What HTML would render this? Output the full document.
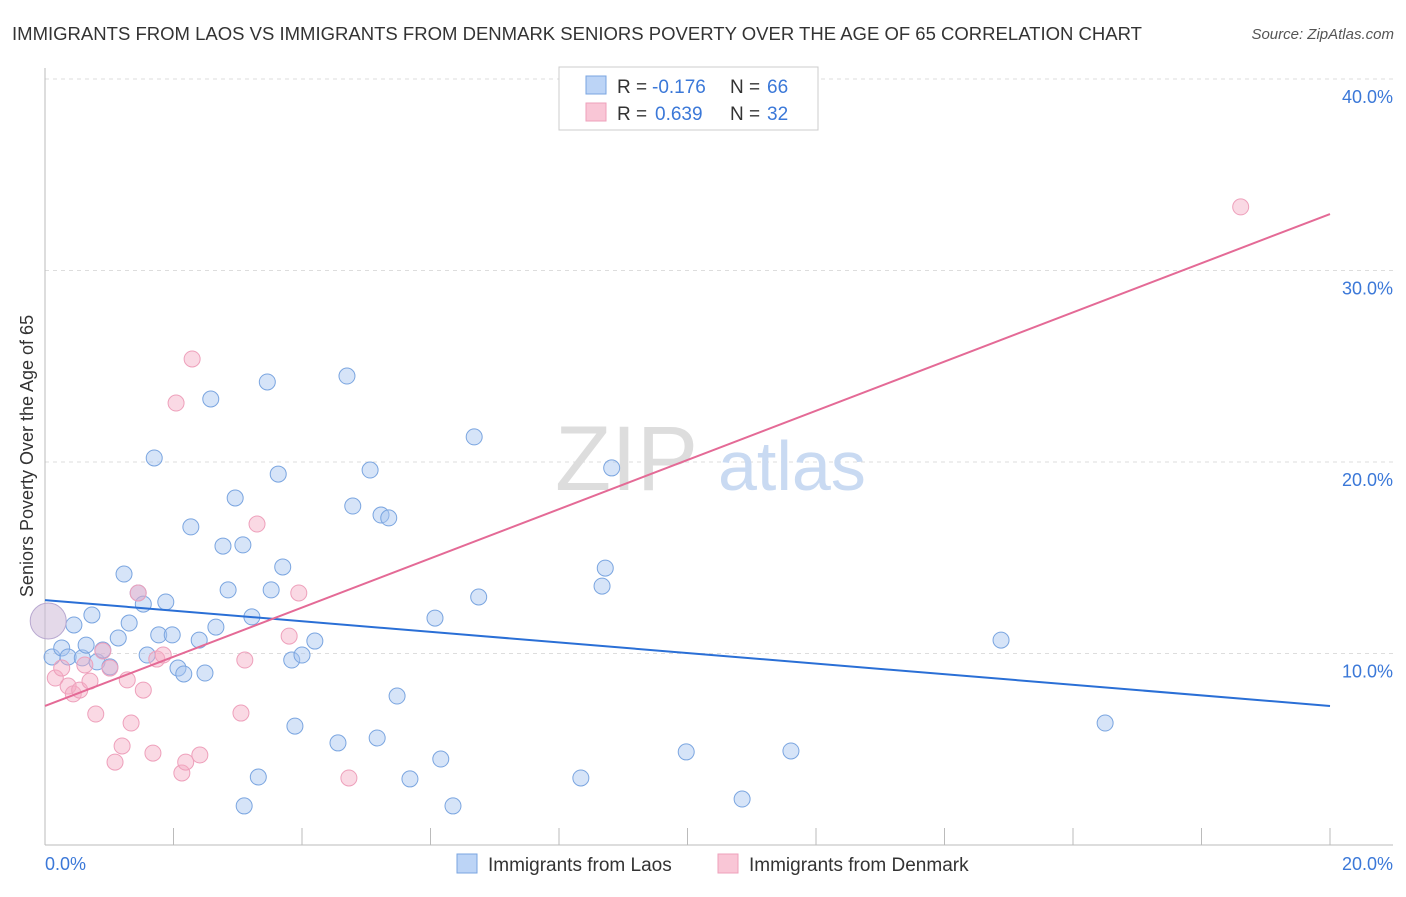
<!DOCTYPE html>
<html><head><meta charset="utf-8"><style>
body{margin:0;background:#fff;font-family:"Liberation Sans",sans-serif}
svg text{font-family:"Liberation Sans",sans-serif}
</style></head><body>
<svg id="chart" width="1406" height="892" xmlns="http://www.w3.org/2000/svg">
<text x="12" y="40" font-size="18" fill="#333" textLength="1130" lengthAdjust="spacingAndGlyphs">IMMIGRANTS FROM LAOS VS IMMIGRANTS FROM DENMARK SENIORS POVERTY OVER THE AGE OF 65 CORRELATION CHART</text>
<text x="1394" y="39" font-size="15" fill="#555" text-anchor="end" font-style="italic">Source: ZipAtlas.com</text>
<g id="grid"></g>
<text x="555" y="490" font-size="92" fill="#ddd" font-family="Liberation Serif">ZIP</text>
<text x="718" y="490" font-size="70" fill="#c9daf2">atlas</text>
<g id="marks"></g>
<text transform="translate(33,456) rotate(-90)" font-size="18" fill="#333" text-anchor="middle">Seniors Poverty Over the Age of 65</text>
<text x="45" y="870" font-size="18" fill="#3b78d8">0.0%</text>
<text x="1393" y="870" font-size="18" fill="#3b78d8" text-anchor="end">20.0%</text>
<g>
<rect x="559" y="67" width="259" height="63" fill="#fff" stroke="#ccc"/>
<rect x="586" y="76" width="20" height="18" fill="#bcd4f6" stroke="#7aa5e0"/>
<rect x="586" y="103" width="20" height="18" fill="#f9c6d6" stroke="#eea0bb"/>
<text x="617" y="93" font-size="19" fill="#333">R =</text>
<text x="652" y="93" font-size="19" fill="#3b78d8">-0.176</text>
<text x="730" y="93" font-size="19" fill="#333">N =</text>
<text x="767" y="93" font-size="19" fill="#3b78d8">66</text>
<text x="617" y="120" font-size="19" fill="#333">R =</text>
<text x="655" y="120" font-size="19" fill="#3b78d8">0.639</text>
<text x="730" y="120" font-size="19" fill="#333">N =</text>
<text x="767" y="120" font-size="19" fill="#3b78d8">32</text>
</g>
<g>
<rect x="457" y="854" width="20" height="19" fill="#bcd4f6" stroke="#7aa5e0"/>
<text x="488" y="871" font-size="19" fill="#333">Immigrants from Laos</text>
<rect x="718" y="854" width="20" height="19" fill="#f9c6d6" stroke="#eea0bb"/>
<text x="749" y="871" font-size="19" fill="#333">Immigrants from Denmark</text>
</g>
</svg>
<script>
const yTicks=[10,20,30,40];
const yTickLabels=["10.0%","20.0%","30.0%","40.0%"];
const xTicks=[0,2,4,6,8,10,12,14,16,18,20];
const laosX=[0.11,0.26,0.45,0.36,0.58,0.64,0.73,0.81,0.90,1.01,1.14,1.23,1.31,1.45,1.53,1.59,1.70,1.77,1.88,1.98,2.07,2.16,2.27,2.40,2.49,2.58,2.66,2.77,2.85,2.96,3.08,3.22,3.32,3.10,3.46,3.52,3.63,3.70,3.84,3.89,4.00,4.20,4.56,4.70,4.79,5.06,5.17,5.23,5.35,5.48,5.68,6.07,6.16,6.35,6.68,6.75,8.34,8.67,8.72,8.82,9.98,10.85,11.61,14.88,16.50];
const laosY=[9.82,10.29,11.49,9.82,9.77,10.44,12.01,9.56,10.18,9.30,10.81,14.15,11.59,13.16,12.58,9.92,20.21,10.97,12.69,10.97,9.24,8.93,16.61,10.70,8.98,23.29,11.38,15.61,13.32,18.12,15.67,11.91,3.55,2.04,24.18,13.32,19.37,14.52,9.66,6.21,9.92,10.65,5.33,24.49,17.70,19.58,5.59,17.23,17.08,7.78,3.45,11.85,4.49,2.04,21.31,12.95,3.50,13.52,14.46,19.69,4.86,2.40,4.91,10.70,6.37];
const denX=[0.16,0.26,0.36,0.44,0.54,0.62,0.70,0.79,0.90,1.01,1.09,1.20,1.28,1.34,1.45,1.53,1.68,1.74,1.84,2.04,2.13,2.19,2.29,2.41,3.05,3.11,3.30,3.80,3.95,4.73,18.61];
const denY=[8.72,9.24,8.30,7.89,8.09,9.40,8.56,6.84,10.13,9.24,4.33,5.17,8.62,6.37,13.16,8.09,4.80,9.71,9.92,23.08,3.76,4.33,25.38,4.70,6.89,9.66,16.76,10.91,13.16,3.50,33.32];
const bigX=[0.05], bigY=[11.7];
const laosTrend=[12.79,7.26];
const denTrend=[7.26,32.95];
const trendX=[0,20];
const X=v=>45+v*64.25, Y=v=>845-v*19.15;
const NS="http://www.w3.org/2000/svg";
const grid=document.getElementById('grid'), marks=document.getElementById('marks');
function mk(tag,attrs,parent){const e=document.createElementNS(NS,tag);for(const k in attrs)e.setAttribute(k,attrs[k]);parent.appendChild(e);return e;}
yTicks.forEach((t,i)=>{
 const l=mk('line',{x1:45,x2:1393,y1:Y(t),y2:Y(t),stroke:'#ddd','stroke-dasharray':'4,4'},grid);
 
 
 const tx=mk('text',{x:1393,y:Y(t)+24,'font-size':18,fill:'#3b78d8','text-anchor':'end'},grid);
 tx.textContent=yTickLabels[i];
 
 
});
const ax=mk('line',{x1:45,x2:1393,y1:845,y2:845,stroke:'#bbb'},grid);


const ay=mk('line',{x1:45,x2:45,y1:68,y2:845,stroke:'#bbb'},grid);


xTicks.forEach(t=>{
 const l=mk('line',{x1:X(t),x2:X(t),y1:828,y2:845,stroke:'#bbb'},grid);
 
 
});
function pts(xs,ys,fill,stroke,name,r){
 xs.forEach((x,i)=>{
  const c=mk('circle',{cx:X(x),cy:Y(ys[i]),r:r,fill:fill,stroke:stroke,'stroke-width':1},marks);
  
  
 });
}
pts(laosX,laosY,'rgba(164,196,240,0.45)','#7aa5e0','laos-point',8);
pts(denX,denY,'rgba(245,170,195,0.45)','#eea0bb','denmark-point',8);
pts(bigX,bigY,'rgba(205,185,215,0.55)','#b8a8d0','large-point',18);
const lt=mk('line',{x1:X(trendX[0]),y1:Y(laosTrend[0]),x2:X(trendX[1]),y2:Y(laosTrend[1]),stroke:'#2a6fd6','stroke-width':2},marks);


const dt=mk('line',{x1:X(trendX[0]),y1:Y(denTrend[0]),x2:X(trendX[1]),y2:Y(denTrend[1]),stroke:'#e46a96','stroke-width':2},marks);


</script>
</body></html>
